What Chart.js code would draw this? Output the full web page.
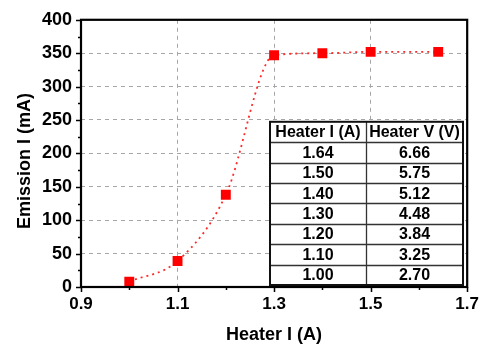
<!DOCTYPE html>
<html>
<head>
<meta charset="utf-8">
<script src="https://cdn.jsdelivr.net/npm/chart.js@4.4.0/dist/chart.umd.min.js"></script>
<style>
  html, body { margin: 0; padding: 0; background: #fff; }
  #wrap { width: 486px; height: 346px; }
</style>
</head>
<body>
<div id="wrap"><canvas id="myChart" width="486" height="346"></canvas></div>
<script>
// data
const heaterCurrent = [1.0, 1.1, 1.2, 1.3, 1.4, 1.5, 1.64];
const emissionCurrent = [8, 39, 138, 347, 350, 352, 352];

const xTicks = [0.9, 1.1, 1.3, 1.5, 1.7];
const xMinorTicks = [1.0, 1.2, 1.4, 1.6];
const yMinorTicks = [25, 75, 125, 175, 225, 275, 325, 375];

// inset table
const tableHeader = ['Heater I (A)', 'Heater V (V)'];
const tableHeaterI = ['1.64', '1.50', '1.40', '1.30', '1.20', '1.10', '1.00'];
const tableHeaterV = ['6.66', '5.75', '5.12', '4.48', '3.84', '3.25', '2.70'];

const xTitle = 'Heater I (A)';
const yTitle = 'Emission I (mA)';

const FONT = '"Liberation Sans", Arial, sans-serif';

const isEdge = (v, lo, hi) => Math.abs(v - lo) < 1e-6 || Math.abs(v - hi) < 1e-6;

const framePlugin = {
    id: 'frame-ticks-table',
    afterDraw: (chart) => {
        const ctx = chart.ctx;
        const area = chart.chartArea;
        const xs = chart.scales.x;
        const ys = chart.scales.y;
        ctx.save();

        // box round the plot
        ctx.strokeStyle = '#000';
        ctx.lineWidth = 2.2;
        ctx.strokeRect(area.left, area.top, area.right - area.left, area.bottom - area.top);

        // tick marks, outside
        ctx.lineWidth = 1.5;
        ctx.beginPath();
        xTicks.forEach(v => {
            const px = Math.round(xs.getPixelForValue(v)) + 0.5;
            ctx.moveTo(px, area.bottom); ctx.lineTo(px, area.bottom + 5);
        });
        xMinorTicks.forEach(v => {
            const px = Math.round(xs.getPixelForValue(v)) + 0.5;
            ctx.moveTo(px, area.bottom); ctx.lineTo(px, area.bottom + 3);
        });
        ys.ticks.forEach(t => {
            const py = Math.round(ys.getPixelForValue(t.value)) + 0.5;
            ctx.moveTo(area.left, py); ctx.lineTo(area.left - 5, py);
        });
        yMinorTicks.forEach(v => {
            const py = Math.round(ys.getPixelForValue(v)) + 0.5;
            ctx.moveTo(area.left, py); ctx.lineTo(area.left - 3, py);
        });
        ctx.stroke();

        // axis titles
        ctx.fillStyle = '#000';
        ctx.font = 'bold 18px ' + FONT;
        ctx.textAlign = 'center';
        ctx.textBaseline = 'middle';
        ctx.fillText(xTitle, (area.left + area.right) / 2, 335);
        ctx.save();
        ctx.translate(25, 161);
        ctx.rotate(-Math.PI / 2);
        ctx.fillText(yTitle, 0, 0);
        ctx.restore();

        // table
        const tLeft = area.left + 189;
        const tTop = area.top + 102;
        const colW = [96, 97];
        const rowH = 20.4;
        const nRows = tableHeaterI.length + 1;
        const tW = colW[0] + colW[1];
        const tH = rowH * nRows;
        ctx.fillStyle = '#fff';
        ctx.fillRect(tLeft, tTop, tW, tH);

        ctx.strokeStyle = '#333';
        ctx.lineWidth = 1.3;
        ctx.beginPath();
        for (let i = 1; i < nRows; i++) {
            const yy = Math.round(tTop + i * rowH) + 0.5;
            ctx.moveTo(tLeft, yy); ctx.lineTo(tLeft + tW, yy);
        }
        const midX = Math.round(tLeft + colW[0]) + 0.5;
        ctx.moveTo(midX, tTop); ctx.lineTo(midX, tTop + tH);
        ctx.stroke();
        ctx.strokeStyle = '#111';
        ctx.lineWidth = 2;
        ctx.strokeRect(tLeft, tTop, tW, tH);

        ctx.fillStyle = '#000';
        ctx.font = 'bold 16px ' + FONT;
        const c0 = tLeft + colW[0] / 2;
        const c1 = tLeft + colW[0] + colW[1] / 2;
        ctx.fillText(tableHeader[0], c0, tTop + rowH / 2 + 1);
        ctx.fillText(tableHeader[1], c1, tTop + rowH / 2 + 1);
        tableHeaterI.forEach((s, i) => {
            const yy = tTop + (i + 1) * rowH + rowH / 2 + 1;
            ctx.fillText(s, c0, yy);
            ctx.fillText(tableHeaterV[i], c1, yy);
        });

        ctx.restore();
    },
};

const ctx = document.getElementById('myChart').getContext('2d');

new Chart(ctx, {
    type: 'scatter',
    data: {
        datasets: [
            {
                data: heaterCurrent.map((x, i) => ({ x: x, y: emissionCurrent[i] })),
                showLine: true,
                borderColor: '#ff2a2a',
                borderWidth: 1.8,
                borderDash: [2, 4],
                cubicInterpolationMode: 'monotone',
                pointStyle: 'rect',
                pointRadius: 7,
                pointHoverRadius: 7,
                pointBackgroundColor: '#ff0000',
                pointBorderColor: '#ff0000',
                pointBorderWidth: 0,
            },
        ],
    },
    options: {
        responsive: false,
        animation: false,
        layout: {
            padding: { top: 11, right: 14, left: 0, bottom: 0 },
        },
        plugins: {
            legend: { display: false },
            tooltip: { enabled: false },
        },
        scales: {
            x: {
                type: 'linear',
                min: 0.9,
                max: 1.7,
                afterBuildTicks: (scale) => {
                    scale.ticks = xTicks.map(v => ({ value: v }));
                },
                afterFit: (scale) => { scale.height = 59; },
                ticks: {
                    color: '#000',
                    font: { family: FONT, size: 17, weight: 'bold' },
                    padding: 7,
                    maxRotation: 0,
                    callback: (v) => Number(v).toFixed(1),
                },
                grid: {
                    drawTicks: false,
                    lineWidth: 1,
                    color: (c) => (c.tick && isEdge(c.tick.value, 0.9, 1.7)) ? 'rgba(0,0,0,0)' : '#a6a6a6',
                },
                border: { display: false, dash: [4, 4] },
            },
            y: {
                min: 0,
                max: 400,
                afterFit: (scale) => { scale.width = 81; },
                ticks: {
                    stepSize: 50,
                    color: '#000',
                    font: { family: FONT, size: 18, weight: 'bold' },
                    padding: 9,
                },
                grid: {
                    drawTicks: false,
                    lineWidth: 1,
                    color: (c) => (c.tick && isEdge(c.tick.value, 0, 400)) ? 'rgba(0,0,0,0)' : '#a6a6a6',
                },
                border: { display: false, dash: [4, 4] },
            },
        },
    },
    plugins: [framePlugin],
});
</script>
</body>
</html>
